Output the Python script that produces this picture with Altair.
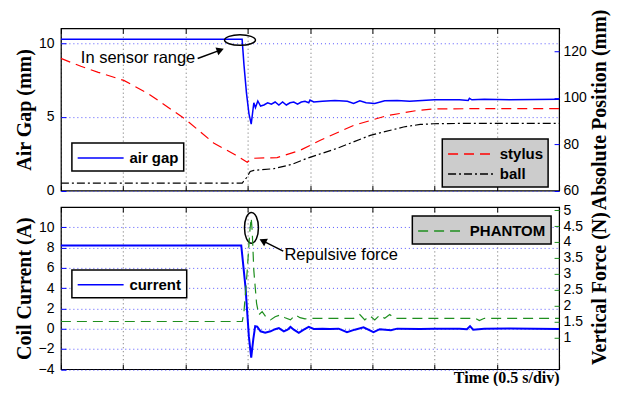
import altair as alt
import pandas as pd

# ---------------- data (time in seconds, 0.5 s/div) ----------------
t_airgap = [0, 1.455, 1.47, 1.49, 1.51, 1.528, 1.549, 1.562, 1.581, 1.603, 1.63, 1.66, 1.69,
            1.72, 1.75, 1.78, 1.81, 1.84, 1.87, 1.90, 1.93, 1.96, 1.99, 2.0, 2.03, 2.1, 2.2,
            2.3, 2.35, 2.4, 2.45, 2.52, 2.6, 2.7, 2.8, 2.9, 3.0, 3.2, 3.27, 3.28, 3.3, 3.4,
            3.6, 3.8, 4.0]
airgap = [10.25, 10.25, 8.5, 6.6, 5.2, 4.5, 5.95, 5.62, 6.07, 5.73, 5.8, 5.95, 5.85,
          6.0, 5.8, 6.0, 5.8, 5.95, 6.0, 5.85, 6.0, 6.05, 5.95, 6.13, 6.0, 6.05, 6.1,
          6.05, 5.9, 6.08, 5.95, 5.9, 6.08, 6.1, 6.05, 6.1, 6.15, 6.15, 6.1, 6.25, 6.15, 6.18,
          6.15, 6.17, 6.18]

t_stylus = [0, 0.16, 0.3, 0.505, 0.695, 0.994, 1.226, 1.402, 1.496, 1.536, 1.736, 1.923,
            2.083, 2.35, 2.618, 2.858, 2.99, 3.3, 4.0]
stylus = [117, 113.6, 111, 107.5, 102, 91, 80.5, 75.3, 72.2, 73.9, 74.2, 77.4,
          81.7, 88.1, 92.3, 94.5, 95.2, 95.3, 95.3]

t_ball = [0, 1.456, 1.49, 1.52, 1.549, 1.709, 1.85, 1.977, 2.217, 2.484, 2.751, 2.885,
          2.99, 3.3, 4.0]
ball = [63.2, 63.2, 65.5, 68.2, 68.7, 69.4, 71.2, 73.9, 78.2, 83.8, 87.4, 88.5,
        88.8, 89.0, 89.0]

t_current = [0, 1.448, 1.482, 1.509, 1.528, 1.545, 1.56, 1.576, 1.603, 1.64, 1.683, 1.72,
             1.75, 1.79, 1.82, 1.843, 1.87, 1.91, 1.95, 1.99, 2.03, 2.1, 2.163, 2.23, 2.297,
             2.36, 2.43, 2.51, 2.56, 2.65, 2.7, 2.885, 3.0, 3.2, 3.26, 3.285, 3.31, 3.4,
             3.6, 3.8, 4.0]
current = [8.2, 8.2, 4.1, -0.74, -2.86, -1.0, 0.25, 0.2, -0.26, -0.4, -0.26, -0.05,
           0.05, -0.26, -0.1, 0.17, -0.1, -0.42, -0.1, 0.17, -0.03, 0.0, -0.03, 0.0, -0.35,
           -0.1, 0.13, -0.35, -0.05, -0.16, 0.0, -0.03, 0.0, 0.0, -0.05, 0.25, -0.1, 0.0,
           0.02, 0.0, -0.03]

t_phantom = [0, 1.456, 1.469, 1.496, 1.517, 1.528, 1.536, 1.549, 1.571, 1.589, 1.616, 1.65,
             1.683, 1.72, 1.763, 1.80, 1.843, 1.883, 1.92, 1.96, 2.0, 2.35, 2.4, 2.44, 2.48,
             2.52, 2.56, 2.6, 2.64, 2.68, 3.33, 3.36, 3.4, 4.0]
phantom = [1.5, 1.5, 1.76, 3.1, 4.34, 4.76, 4.34, 3.1, 2.07, 1.71, 1.81, 1.62,
           1.55, 1.65, 1.71, 1.62, 1.55, 1.71, 1.62, 1.58, 1.6, 1.6, 1.72, 1.55, 1.68,
           1.55, 1.7, 1.6, 1.72, 1.6, 1.6, 1.53, 1.6, 1.6]

# ticks
X_TICKS = [0, 0.5, 1, 1.5, 2, 2.5, 3, 3.5, 4]
AIRGAP_TICKS = [0, 5, 10]
POS_TICKS = [60, 80, 100, 120]
CURRENT_TICKS = [-4, -2, 0, 2, 4, 6, 8, 10]
FORCE_TICKS = [1, 1.5, 2, 2.5, 3, 3.5, 4, 4.5, 5]

# annotations (data coordinates of the left axes)
top_note = ["In sensor range"]
top_note_t, top_note_v = [0.16], [9.0]
top_ell_t, top_ell_v = [1.438], [10.2]
top_arr_t0, top_arr_v0, top_arr_t1, top_arr_v1 = [1.098], [8.95], [1.280], [9.52]

bot_note = ["Repulsive force"]
bot_note_t, bot_note_v = [1.795], [7.22]
bot_ell_t, bot_ell_v = [1.530], [9.94]
bot_arr_t0, bot_arr_v0, bot_arr_t1, bot_arr_v1 = [1.785], [7.65], [1.621], [8.65]

# ---------------- style ----------------
SANS = "Liberation Sans"
SERIF = "Liberation Serif"
W, H = 499, 162.5
BLUE = "#0000ff"
RED = "#ff0000"
GREEN = "#1f8f1f"

ELL_H = "M -1 0 A 1 0.34 0 1 0 1 0 A 1 0.34 0 1 0 -1 0 Z"
ELL_V = "M 0 -1 A 0.45 1 0 1 0 0 1 A 0.45 1 0 1 0 0 -1 Z"
LEG_LINE = "M -1 0 L 4 0"   # long legend stroke (5 radii)
XSCALE = alt.Scale(domain=[0, 4], nice=False, zero=False)


def x_enc(title=None, field="t:Q"):
    ax = dict(values=X_TICKS, labels=False, grid=True, gridColor="#000000",
              gridDash=[1, 3], gridOpacity=0.6, tickSize=5, tickColor="black",
              offset=-5, domain=False)
    if title:
        ax.update(title=title, titleAnchor="end", titlePadding=-0.5, titleFontSize=16)
    else:
        ax.update(title=None)
    return alt.X(field, scale=XSCALE, axis=alt.Axis(**ax))


def x_top():
    return alt.X("t:Q", scale=XSCALE,
                 axis=alt.Axis(orient="top", values=X_TICKS, labels=False, title=None,
                               grid=False, tickSize=5, tickColor="black", offset=-5,
                               domain=False))


def y_left(field, domain, ticks, title, tick_color):
    return alt.Y(field, scale=alt.Scale(domain=domain, nice=False, zero=False),
                 axis=alt.Axis(values=ticks, title=title, orient="left", offset=-5, tickSize=5,
                               tickColor=tick_color, domain=False, grid=True,
                               gridColor="#3a3aff", gridDash=[1, 3], gridOpacity=0.85,
                               labelPadding=7, titlePadding=4))


def y_right(field, domain, ticks, title, tick_color, tpad):
    return alt.Y(field, scale=alt.Scale(domain=domain, nice=False, zero=False),
                 axis=alt.Axis(values=ticks, title=title, orient="right", offset=-5, tickSize=5,
                               tickColor=tick_color, domain=False, grid=False, format="~r",
                               labelPadding=4, titlePadding=tpad, titleAngle=270,
                               titleBaseline="top"))


def legend(x, y, fill):
    return alt.Legend(orient="none", legendX=x, legendY=y, title=None, fillColor=fill,
                      strokeColor="black", padding=5, symbolType=LEG_LINE, symbolSize=339,
                      symbolStrokeWidth=1.5, labelFont=SANS, labelFontSize=15,
                      labelFontWeight="bold", labelColor="black", labelOffset=32.6,
                      rowPadding=2)


def annotations(yfn, xtitle, note, nt, nv, et, ev, shape, esize, t0, v0, t1, v1, head, angle):
    d_note = pd.DataFrame({"t": nt, "v": nv, "label": note})
    d_ell = pd.DataFrame({"t": et, "v": ev})
    d_arr = pd.DataFrame({"t": t0, "v": v0, "t1": t1, "v1": v1})
    txt = alt.Chart(d_note).mark_text(align="left", baseline="middle", font=SANS,
                                      fontSize=16.5, color="black").encode(
        x=x_enc(xtitle), y=yfn(), text="label:N")
    ell = alt.Chart(d_ell).mark_point(shape=shape, size=esize, filled=False, stroke="black",
                                      strokeWidth=1.5, opacity=1).encode(x=x_enc(xtitle), y=yfn())
    rule = alt.Chart(d_arr).mark_rule(color="black", strokeWidth=1.5).encode(
        x=x_enc(xtitle), y=yfn(), x2="t1:Q", y2="v1:Q")
    tip = alt.Chart(d_arr).mark_point(shape=head, angle=angle, size=70, filled=True,
                                      color="black", opacity=1).encode(
        x=x_enc(xtitle, "t1:Q"), y=yfn("v1:Q"))
    return [txt, ell, rule, tip]


# ---------------- top panel ----------------
df_air = pd.DataFrame({"t": t_airgap, "v": airgap, "series": "air gap"})
df_pos = pd.concat([
    pd.DataFrame({"t": t_stylus, "v": stylus, "series": "stylus", "o": range(len(t_stylus))}),
    pd.DataFrame({"t": t_ball, "v": ball, "series": "ball", "o": range(len(t_ball))}),
])


def yl_top(f="v:Q"):
    return y_left(f, [0, 11], AIRGAP_TICKS, "Air Gap (mm)", BLUE)


air_line = alt.Chart(df_air).mark_line(strokeWidth=1.5).encode(
    x=x_enc(), y=yl_top(),
    color=alt.Color("series:N", scale=alt.Scale(domain=["air gap"], range=[BLUE]),
                    legend=legend(11, 115, "white")))

pos_leg = legend(382, 111, "#cccccc")
pos_lines = alt.Chart(df_pos).mark_line(strokeWidth=1.2).encode(
    x=x_top(),
    y=y_right("v:Q", [60, 130], POS_TICKS, "Absolute Position (mm)", BLUE, 3),
    color=alt.Color("series:N", scale=alt.Scale(domain=["stylus", "ball"], range=[RED, "black"]),
                    legend=pos_leg),
    strokeDash=alt.StrokeDash("series:N",
                              scale=alt.Scale(domain=["stylus", "ball"],
                                              range=[[10, 6], [8, 3, 2, 3]]),
                              legend=pos_leg),
    order="o:Q")

top_left = alt.layer(air_line, *annotations(
    yl_top, None, top_note, top_note_t, top_note_v, top_ell_t, top_ell_v, ELL_H, 961,
    top_arr_t0, top_arr_v0, top_arr_t1, top_arr_v1, "triangle-right", 340))

top = alt.layer(top_left, pos_lines).resolve_scale(
    y="independent", color="independent", strokeDash="independent"
).resolve_axis(x="independent").properties(width=W, height=H)

# ---------------- bottom panel ----------------
df_cur = pd.DataFrame({"t": t_current, "v": current, "series": "current"})
df_ph = pd.DataFrame({"t": t_phantom, "v": phantom, "series": "PHANTOM"})
XT = "Time (0.5 s/div)"


def yl_bot(f="v:Q"):
    return y_left(f, [-4, 12], CURRENT_TICKS, "Coil Current (A)", BLUE)


cur_line = alt.Chart(df_cur).mark_line(strokeWidth=2.0).encode(
    x=x_enc(XT), y=yl_bot(),
    color=alt.Color("series:N", scale=alt.Scale(domain=["current"], range=[BLUE]),
                    legend=legend(11, 63, "white")))

ph_leg = legend(352, 9, "#cccccc")
ph_line = alt.Chart(df_ph).mark_line(strokeWidth=1.2).encode(
    x=x_top(),
    y=y_right("v:Q", [0, 5.1], FORCE_TICKS, "Vertical Force (N)", GREEN, 7),
    color=alt.Color("series:N", scale=alt.Scale(domain=["PHANTOM"], range=[GREEN]),
                    legend=ph_leg),
    strokeDash=alt.StrokeDash("series:N", scale=alt.Scale(domain=["PHANTOM"], range=[[10, 6]]),
                              legend=ph_leg))

bot_anns = annotations(
    yl_bot, XT, bot_note, bot_note_t, bot_note_v, bot_ell_t, bot_ell_v, ELL_V, 961,
    bot_arr_t0, bot_arr_v0, bot_arr_t1, bot_arr_v1, "triangle-left", 27)
bot_left = alt.layer(cur_line, *bot_anns)

bottom = alt.layer(bot_left, ph_line).resolve_scale(
    y="independent", color="independent", strokeDash="independent"
).resolve_axis(x="independent").properties(width=W, height=H)

chart = alt.vconcat(top, bottom, spacing=16, bounds="flush").properties(
    padding={"left": 5, "top": 0, "right": 0, "bottom": -1}
).configure_view(stroke="black", strokeWidth=1.2).configure_axis(
    labelFont=SANS, labelFontSize=14, labelColor="black",
    titleFont=SERIF, titleFontSize=20, titleFontWeight="bold", titleColor="black"
).configure_legend(strokeWidth=1.5)

chart.save("out.html", embed_options={"renderer": "svg", "actions": False})
